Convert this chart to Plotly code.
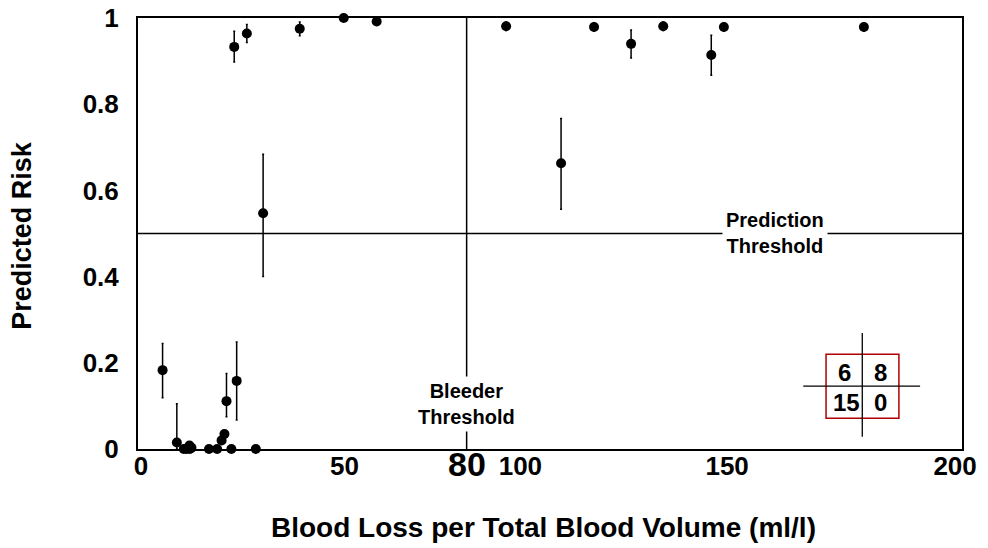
import plotly.graph_objects as go

# ---- data ----
blood_loss = [5.3, 8.8, 10.5, 11.2, 11.9, 12.0, 12.4, 16.7, 18.7, 19.8, 20.5, 21.0, 22.2, 23.5, 28.2,
              30.0, 22.9, 26.0, 39.0, 49.8, 57.9,
              89.7, 103.2, 111.3, 120.4, 128.3, 140.1, 143.2, 177.6]
risk = [0.183, 0.015, 0.0, 0.0, 0.008, 0.0, 0.003, 0.0, 0.0, 0.020, 0.035, 0.111, 0.0, 0.158, 0.0,
        0.547, 0.933, 0.964, 0.975, 1.0, 0.992,
        0.981, 0.663, 0.979, 0.940, 0.981, 0.914, 0.979, 0.979]
err_plus = [0.062, 0.090, 0.0, 0.0, 0.0, 0.0, 0.0, 0.0, 0.0, 0.0, 0.0, 0.064, 0.0, 0.090, 0.0,
            0.137, 0.036, 0.021, 0.016, 0.0, 0.0,
            0.010, 0.104, 0.010, 0.032, 0.010, 0.046, 0.010, 0.010]
err_minus = [0.064, 0.015, 0.0, 0.0, 0.0, 0.0, 0.0, 0.0, 0.0, 0.0, 0.0, 0.036, 0.0, 0.091, 0.0,
             0.147, 0.035, 0.021, 0.016, 0.0, 0.0,
             0.010, 0.107, 0.010, 0.033, 0.010, 0.047, 0.010, 0.010]

x_tick_vals = [0, 50, 93.2, 144, 200]
x_tick_text = ["0", "50", "100", "150", "200"]
y_tick_vals = [0, 0.2, 0.4, 0.6, 0.8, 1.0]
y_tick_text = ["0", "0.2", "0.4", "0.6", "0.8", "1"]

bleeder_threshold = 80
prediction_threshold = 0.5
table_counts = ["6", "8", "15", "0"]

FONT = "Liberation Sans"

fig = go.Figure()
fig.add_trace(go.Scatter(
    x=blood_loss, y=risk, mode="markers",
    marker=dict(color="black", size=10),
    error_y=dict(type="data", symmetric=False, array=err_plus, arrayminus=err_minus,
                 color="black", thickness=1.5, width=1),
    cliponaxis=False, showlegend=False,
))

shapes = [
    dict(type="line", xref="x", yref="y", x0=-0.74, x1=201.7, y0=prediction_threshold, y1=prediction_threshold,
         line=dict(color="black", width=1.5), layer="below"),
    dict(type="line", xref="x", yref="y", x0=bleeder_threshold, x1=bleeder_threshold, y0=0, y1=1,
         line=dict(color="black", width=1.5), layer="below"),
    # inset 2x2 table
    dict(type="rect", xref="x", yref="y", x0=168.3, x1=186.2, y0=0.0712, y1=0.2197,
         line=dict(color="#b00000", width=1.5), fillcolor="white"),
    dict(type="line", xref="x", yref="y", x0=177.2, x1=177.2, y0=0.0285, y1=0.269,
         line=dict(color="black", width=1.3)),
    dict(type="line", xref="x", yref="y", x0=162.7, x1=191.4, y0=0.146, y1=0.146,
         line=dict(color="black", width=1.3)),
]

annotations = [
    dict(x=155.8, y=0.502, xref="x", yref="y", text="<b>Prediction<br>Threshold</b>", showarrow=False,
         font=dict(family=FONT, size=20, color="black"), bgcolor="white", borderpad=3),
    dict(x=bleeder_threshold, y=0.104, xref="x", yref="y", text="<b>Bleeder<br>Threshold</b>", showarrow=False,
         font=dict(family=FONT, size=20, color="black"), bgcolor="white", borderpad=3),
    dict(x=bleeder_threshold, y=0, xref="x", yref="paper", yanchor="top", yshift=6,
         text="<b>80</b>", showarrow=False, font=dict(family=FONT, size=34, color="black")),
    dict(x=-0.1408, y=0.497, xref="paper", yref="paper", xanchor="center", yanchor="middle",
         text="<b>Predicted Risk</b>", textangle=-90,
         showarrow=False, font=dict(family=FONT, size=27, color="black")),
    dict(x=0.492, y=-0.181, xref="paper", yref="paper", xanchor="center", yanchor="middle",
         text="<b>Blood Loss per Total Blood Volume (ml/l)</b>",
         showarrow=False, font=dict(family=FONT, size=28, color="black")),
]
cell_pos = [(172.9, 0.1785), (181.7, 0.1785), (173.3, 0.108), (181.7, 0.108)]
for (cx, cy), t in zip(cell_pos, table_counts):
    annotations.append(dict(x=cx, y=cy, xref="x", yref="y", text="<b>%s</b>" % t, showarrow=False,
                            font=dict(family=FONT, size=24, color="black")))

fig.update_layout(
    width=988, height=548,
    margin=dict(l=138, r=26, t=18, b=99),
    paper_bgcolor="white", plot_bgcolor="white",
    shapes=shapes, annotations=annotations,
    xaxis=dict(range=[-0.74, 201.7], showgrid=False, zeroline=False, automargin=False,
               showline=True, linecolor="black", linewidth=2, mirror=True,
               tickmode="array", tickvals=x_tick_vals, ticktext=x_tick_text, ticks="",
               tickfont=dict(family=FONT, size=26, color="black", weight="bold"),
               ticklabelstandoff=-7, ticklabeloverflow="allow"),
    yaxis=dict(range=[0, 1], showgrid=False, zeroline=False, automargin=False,
               showline=True, linecolor="black", linewidth=2, mirror=True,
               tickmode="array", tickvals=y_tick_vals, ticktext=y_tick_text, ticks="",
               tickfont=dict(family=FONT, size=26, color="black", weight="bold"),
               ticklabelstandoff=12, ticklabeloverflow="allow"),
)

fig.write_html("out.html", config={"displayModeBar": False},
               post_script="document.body.style.margin='0';")
